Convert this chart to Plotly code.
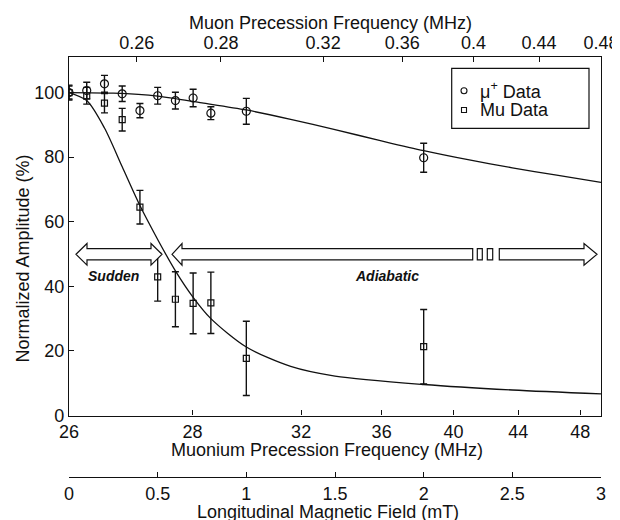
import plotly.graph_objects as go

# ---------------- data ----------------
field_mu_plus = [0, 0.1, 0.2, 0.3, 0.4, 0.5, 0.6, 0.7, 0.8, 1.0, 2.0]          # mT
amp_mu_plus = [100.0, 100.6, 102.7, 99.6, 94.4, 99.0, 97.5, 98.3, 93.6, 94.2, 79.8]
err_mu_plus = [2.3, 2.6, 2.6, 2.4, 2.2, 2.6, 2.6, 2.7, 2.0, 4.0, 4.5]

field_mu = [0, 0.1, 0.2, 0.3, 0.4, 0.5, 0.6, 0.7, 0.8, 1.0, 2.0]               # mT
amp_mu = [100.0, 99.0, 96.7, 91.6, 64.5, 42.9, 36.0, 34.7, 34.9, 17.7, 21.3]
err_mu = [2.0, 2.6, 3.0, 3.5, 5.2, 7.5, 8.5, 9.4, 9.5, 11.5, 11.5]

curve_mu_plus_field = [0, 0.25, 0.5, 0.75, 1.0, 1.25, 1.5, 1.75, 2.0, 2.25, 2.5, 2.75, 3.0]
curve_mu_plus = [100, 99.8, 98.9, 96.8, 94.6, 91.7, 88.5, 85.2, 82.0, 79.2, 76.7, 74.4, 72.2]

curve_mu_field = [0, 0.1, 0.2, 0.3, 0.4, 0.5, 0.6, 0.7, 0.8, 1.0, 1.25, 1.5, 2.0, 2.5, 3.0]
curve_mu = [100, 97.5, 89.0, 77.0, 65.0, 54.5, 44.8, 36.6, 30.0, 21.2, 15.2, 12.2, 9.6, 7.9, 6.7]

# tick labels of the three horizontal scales and where they fall on the field scale (mT)
muonium_freq_labels = ["26", "28", "32", "36", "40", "44", "48"]
muonium_freq_at_field = [0.0, 0.697, 1.309, 1.763, 2.168, 2.533, 2.883]
muon_freq_labels = ["0.26", "0.28", "0.32", "0.36", "0.4", "0.44", "0.48"]
muon_freq_at_field = [0.382, 0.857, 1.433, 1.879, 2.281, 2.651, 3.0]
field_ticks = [0, 0.5, 1, 1.5, 2, 2.5, 3]
field_labels = ["0", "0.5", "1", "1.5", "2", "2.5", "3"]
amp_ticks = [0, 20, 40, 60, 80, 100]
amp_labels = ["0", "20", "40", "60", "80", "100"]

# ---------------- layout geometry (window pixels) ----------------
WIN_W, WIN_H = 620, 520
OFF = 8                                   # default page margin of the html body
W, H = WIN_W - OFF, WIN_H - OFF           # figure size
L, R, T, PB = 69, 601, 57, 477            # plot left/right, top, paper bottom (window coords)
PLOT_BOTTOM = 415.5


def px(x):
    return (x - L) / (R - L)


def py(y):
    return (PB - y) / (PB - T)


def path(points):
    return "M " + " L ".join(f"{px(a):.5f},{py(b):.5f}" for a, b in points) + " Z"


FONT = "Liberation Sans, Arial, Helvetica, sans-serif"
INK = "#111111"

fig = go.Figure()

fig.add_trace(go.Scatter(x=curve_mu_plus_field, y=curve_mu_plus, mode="lines",
                         line=dict(color=INK, width=1.3, shape="spline", smoothing=0.8),
                         showlegend=False, hoverinfo="skip"))
fig.add_trace(go.Scatter(x=curve_mu_field, y=curve_mu, mode="lines",
                         line=dict(color=INK, width=1.3, shape="spline", smoothing=0.8),
                         showlegend=False, hoverinfo="skip"))
fig.add_trace(go.Scatter(x=field_mu, y=amp_mu, mode="markers", name="Mu Data",
                         marker=dict(symbol="square-open", size=6, color=INK, line=dict(width=1.2)),
                         error_y=dict(type="data", array=err_mu, thickness=1.4, width=3.5, color=INK),
                         showlegend=False))
fig.add_trace(go.Scatter(x=field_mu_plus, y=amp_mu_plus, mode="markers", name="μ+ Data",
                         marker=dict(symbol="circle-open", size=8, color=INK, line=dict(width=1.2)),
                         error_y=dict(type="data", array=err_mu_plus, thickness=1.4, width=3.5, color=INK),
                         showlegend=False))

axis_common = dict(showgrid=False, zeroline=False, showline=True, linecolor=INK, linewidth=1.3,
                   ticks="inside", ticklen=5, tickwidth=1, tickcolor=INK, automargin=False,
                   tickfont=dict(family=FONT, size=18, color=INK))

ydom0 = (PB - PLOT_BOTTOM) / (PB - T)

fig.update_layout(
    width=W, height=H,
    margin=dict(l=L - OFF, r=WIN_W - R, t=T - OFF, b=WIN_H - PB, pad=0, autoexpand=False),
    paper_bgcolor="white", plot_bgcolor="white",
    showlegend=False,
    xaxis=dict(range=[0, 3], tickmode="array", tickvals=muonium_freq_at_field,
               ticktext=muonium_freq_labels, mirror=False, **axis_common),
    xaxis2=dict(range=[0, 3], overlaying="x", side="top", anchor="y", tickmode="array",
                tickvals=muon_freq_at_field, ticktext=muon_freq_labels, **axis_common),
    xaxis3=dict(range=[0, 3], overlaying="x", side="bottom", anchor="free", position=0,
                tickmode="array", tickvals=field_ticks, ticktext=field_labels, **axis_common),
    yaxis=dict(range=[0, 111], domain=[ydom0, 1], tickmode="array", tickvals=amp_ticks,
               ticktext=amp_labels, mirror=True, **axis_common),
)

# invisible helpers so the overlay axes are drawn
fig.add_trace(go.Scatter(x=[0, 3], y=[0, 0], xaxis="x2", mode="markers",
                         marker=dict(opacity=0), showlegend=False, hoverinfo="skip"))
fig.add_trace(go.Scatter(x=[0, 3], y=[0, 0], xaxis="x3", mode="markers",
                         marker=dict(opacity=0), showlegend=False, hoverinfo="skip"))

# ---------------- axis titles ----------------
def ann(text, x, y, size=18, angle=0, xanchor="center", bold_italic=False):
    if bold_italic:
        text = f"<b><i>{text}</i></b>"
    fig.add_annotation(text=text, x=px(x), y=py(y), xref="paper", yref="paper",
                       showarrow=False, xanchor=xanchor, yanchor="middle", textangle=angle,
                       font=dict(family=FONT, size=size, color=INK))


ann("Muon Precession Frequency (MHz)", 330, 22.7)
ann("Muonium Precession Frequency (MHz)", 327, 450)
ann("Longitudinal Magnetic Field (mT)", 328, 512)
ann("Normalized Amplitude (%)", 22.5, 259, angle=-90)
ann("Sudden", 113.7, 276, size=14, bold_italic=True)
ann("Adiabatic", 386.7, 276, size=14, bold_italic=True)

# ---------------- arrows ----------------
arrow_style = dict(type="path", xref="paper", yref="paper", fillcolor="white",
                   line=dict(color=INK, width=1.2), layer="above")
yc, hs, hh = 254.3, 5.6, 10.8
fig.add_shape(path=path([(76, yc), (87, yc - hh), (87, yc - hs), (151, yc - hs), (151, yc - hh),
                         (162, yc), (151, yc + hh), (151, yc + hs), (87, yc + hs), (87, yc + hh)]),
              **arrow_style)
fig.add_shape(path=path([(172, yc), (182, yc - hh), (182, yc - hs), (472.7, yc - hs),
                         (472.7, yc + hs), (182, yc + hs), (182, yc + hh)]), **arrow_style)
fig.add_shape(path=path([(477.3, yc - hs), (482.3, yc - hs), (482.3, yc + hs), (477.3, yc + hs)]),
              **arrow_style)
fig.add_shape(path=path([(487.3, yc - hs), (492.7, yc - hs), (492.7, yc + hs), (487.3, yc + hs)]),
              **arrow_style)
fig.add_shape(path=path([(499.3, yc - hs), (584, yc - hs), (584, yc - hh), (597, yc),
                         (584, yc + hh), (584, yc + hs), (499.3, yc + hs)]), **arrow_style)

# ---------------- legend box ----------------
fig.add_shape(type="rect", xref="paper", yref="paper", x0=px(451.7), x1=px(589), y0=py(128.3),
              y1=py(68.3), line=dict(color=INK, width=1.2), fillcolor="white", layer="above")
fig.add_shape(type="circle", xref="paper", yref="paper", x0=px(461), x1=px(467), y0=py(93.7),
              y1=py(87.7), line=dict(color=INK, width=1.1), layer="above")
fig.add_shape(type="rect", xref="paper", yref="paper", x0=px(461.5), x1=px(466.5), y0=py(112.5),
              y1=py(107.5), line=dict(color=INK, width=1.1), layer="above")
ann("μ<sup>+</sup> Data", 478, 90.7, xanchor="left")
ann("Mu Data", 478, 110, xanchor="left")

fig.write_html("out.html")
